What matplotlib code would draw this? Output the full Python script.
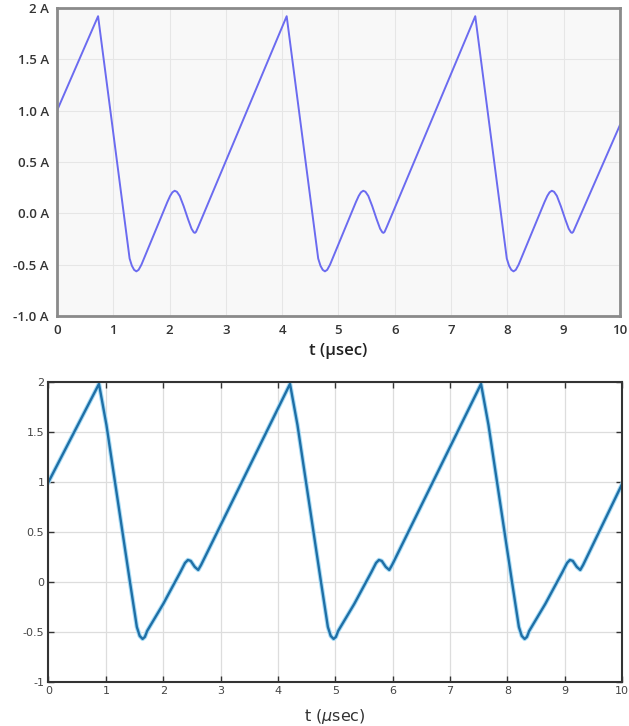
import matplotlib.pyplot as plt

# simulated current waveform (top panel), key points
sim_t = [0.00, 0.73, 1.29, 1.33, 1.37, 1.41, 1.45, 1.50, 1.96, 2.01, 2.05,
         2.09, 2.13, 2.18, 2.25, 2.33, 2.39, 2.43, 2.45, 2.47, 2.51,
         4.08, 4.64, 4.68, 4.72, 4.76, 4.80, 4.85, 5.31, 5.36, 5.40,
         5.44, 5.48, 5.53, 5.60, 5.68, 5.74, 5.78, 5.80, 5.82, 5.86,
         7.43, 7.99, 8.03, 8.07, 8.11, 8.15, 8.20, 8.66, 8.71, 8.75,
         8.79, 8.83, 8.88, 8.95, 9.03, 9.09, 9.13, 9.15, 9.17, 9.21,
         10.00]
sim_i = [1.00, 1.92, -0.44, -0.51, -0.55, -0.565, -0.55, -0.50, 0.11, 0.17, 0.205,
         0.22, 0.21, 0.17, 0.07, -0.06, -0.15, -0.185, -0.19, -0.18, -0.13,
         1.92, -0.44, -0.51, -0.55, -0.565, -0.55, -0.50, 0.11, 0.17, 0.205,
         0.22, 0.21, 0.17, 0.07, -0.06, -0.15, -0.185, -0.19, -0.18, -0.13,
         1.92, -0.44, -0.51, -0.55, -0.565, -0.55, -0.50, 0.11, 0.17, 0.205,
         0.22, 0.21, 0.17, 0.07, -0.06, -0.15, -0.185, -0.19, -0.18, -0.13,
         0.86]

# measured current (bottom panel)
meas_t = [0.00, 0.88, 1.01, 1.42, 1.54, 1.59, 1.64, 1.68, 1.72, 2.00, 2.30, 2.38, 2.43, 2.48, 2.55, 2.61, 2.66,
          4.21, 4.34, 4.75, 4.87, 4.92, 4.97, 5.01, 5.05, 5.33, 5.63, 5.71, 5.76, 5.81, 5.88, 5.94, 5.99,
          7.54, 7.67, 8.08, 8.20, 8.25, 8.30, 8.34, 8.38, 8.66, 8.96, 9.04, 9.09, 9.14, 9.21, 9.27, 9.32,
          10.00]
meas_i = [1.00, 1.98, 1.57, 0.00, -0.45, -0.54, -0.57, -0.55, -0.49, -0.22, 0.10, 0.19, 0.22, 0.21, 0.15, 0.12, 0.17,
          1.98, 1.57, 0.00, -0.45, -0.54, -0.57, -0.55, -0.49, -0.22, 0.10, 0.19, 0.22, 0.21, 0.15, 0.12, 0.17,
          1.98, 1.57, 0.00, -0.45, -0.54, -0.57, -0.55, -0.49, -0.22, 0.10, 0.19, 0.22, 0.21, 0.15, 0.12, 0.17,
          0.98]

x_ticks = list(range(0, 11))
top_yticks = [-1.0, -0.5, 0.0, 0.5, 1.0, 1.5, 2.0]
top_ylabels = ['-1.0 A', '-0.5 A', '0.0 A', '0.5 A', '1.0 A', '1.5 A', '2 A']
bot_ylabels = ['-1', '-0.5', '0', '0.5', '1', '1.5', '2']

fig = plt.figure(figsize=(6.29, 7.26), dpi=100)

# --- top: simulation ---
ax1 = fig.add_axes([0.0906, 0.5647, 0.895, 0.4243])
ax1.set_facecolor('#f8f8f8')
ax1.plot(sim_t, sim_i, color='#6b6bf0', lw=1.4)
ax1.set_xlim(0, 10)
ax1.set_ylim(-1, 2)
ax1.set_xticks(x_ticks)
ax1.set_yticks(top_yticks)
ax1.set_yticklabels(top_ylabels)
ax1.grid(True, color='#e6e6e6', lw=0.8)
ax1.tick_params(length=0, pad=6, labelsize=9.5, labelcolor='#333333')
for lbl in ax1.get_xticklabels() + ax1.get_yticklabels():
    lbl.set_fontfamily('Open Sans')
    lbl.set_fontweight('semibold')
for s in ax1.spines.values():
    s.set_color('#8a8a8a')
    s.set_linewidth(2)
ax1.set_xlabel('t (µsec)', fontsize=12, fontfamily='Open Sans', fontweight='semibold',
               color='#222222', labelpad=4)

# --- bottom: measurement ---
ax2 = fig.add_axes([0.0771, 0.0607, 0.912, 0.4132])
ax2.plot(meas_t, meas_i, color='#a8dcf6', lw=3.2, solid_joinstyle='round')
ax2.plot(meas_t, meas_i, color='#1f6fa6', lw=1.7)
ax2.set_xlim(0, 10)
ax2.set_ylim(-1, 2)
ax2.set_xticks(x_ticks)
ax2.set_yticks(top_yticks)
ax2.set_yticklabels(bot_ylabels)
ax2.grid(True, color='#dddddd', lw=0.9)
ax2.tick_params(direction='in', length=4, width=1, color='#333333', top=True, right=True,
                labelsize=8, labelcolor='#444444', pad=3)
for s in ax2.spines.values():
    s.set_color('#333333')
    s.set_linewidth(1.5)
ax2.set_xlabel(r't ($\mu$sec)', fontsize=11.5, color='#333333', labelpad=8)

fig.savefig('out.png', dpi=100)
